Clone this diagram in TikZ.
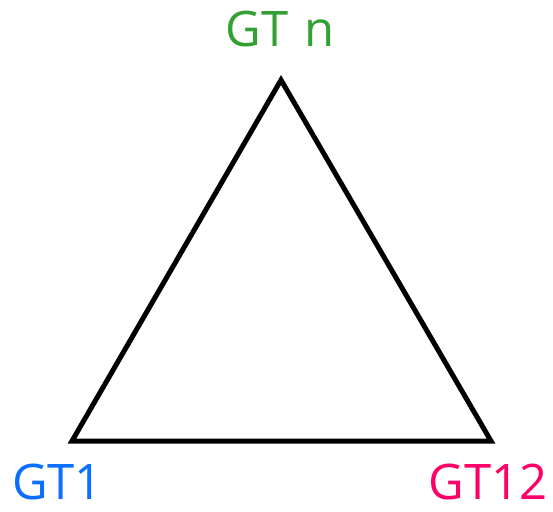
\documentclass[tikz,border=0pt]{standalone}
\usepackage{fontspec}
\setmainfont{Open Sans}
\definecolor{gtgreen}{RGB}{51,160,51}
\definecolor{gtblue}{RGB}{10,110,255}
\definecolor{gtpink}{RGB}{255,0,102}
\begin{document}
\begin{tikzpicture}[x=1pt,y=-1pt,
  lbl/.style={font=\fontsize{49}{52}\selectfont, inner sep=0pt, text depth=0pt, anchor=base},
  edge/.style={line width=5pt, line join=miter}]
\useasboundingbox (0,0) rectangle (553,511);
\coordinate (top) at (281,80);
\coordinate (bl) at (72,441);
\coordinate (br) at (491,441);
\draw[edge] (top) -- (bl) -- (br) -- cycle;
\node[lbl, text=gtgreen] (gtn) at (280,47) {GT\hspace{16pt}n};
\node[lbl, text=gtblue, anchor=base west] (gt1) at (12,499) {GT1};
\node[lbl, text=gtpink, anchor=base east] (gt12) at (548,499) {GT12};
\end{tikzpicture}
\end{document}
